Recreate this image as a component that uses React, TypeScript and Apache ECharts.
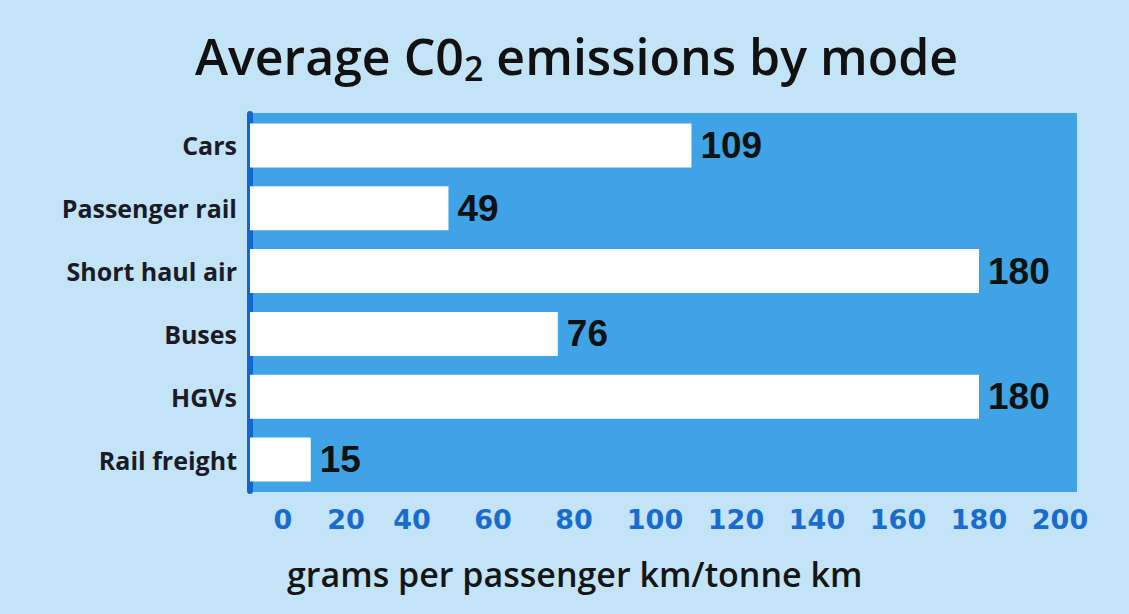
import React, { useEffect, useRef } from "react";
import * as echarts from "echarts";

const categories = ["Cars", "Passenger rail", "Short haul air", "Buses", "HGVs", "Rail freight"];
const values = [109, 49, 180, 76, 180, 15];
const axisMin = 0;
const axisMax = 200;
const axisStep = 20;
const titleMain = "Average C0";
const titleSub = "2";
const titleEnd = " emissions by mode";
const axisTitle = "grams per passenger km/tonne km";

export default function App() {
  const ref = useRef<HTMLDivElement>(null);
  useEffect(() => {
    if (!ref.current) return;
    const chart = echarts.init(ref.current, null, { renderer: "svg" });
    chart.setOption({
      animation: false,
      backgroundColor: "#c3e3f7",
      title: {
        text: `{a|${titleMain}}{s|${titleSub}}{a|${titleEnd}}`,
        left: 190,
        top: 22,
        textStyle: {
          rich: {
            a: { fontFamily: "Open Sans", fontWeight: 600, fontSize: 50, color: "#111" },
            s: { fontFamily: "Open Sans", fontWeight: 600, fontSize: 34, color: "#111", padding: [24, 0, 0, 0] },
          },
        },
      },
      graphic: [
        {
          type: "rect",
          z: -1,
          shape: { x: 250, y: 113, width: 827, height: 379 },
          style: { fill: "#3fa3e6" },
        },
        {
          type: "text",
          left: 287,
          top: 557,
          style: {
            text: axisTitle,
            fontFamily: "Open Sans",
            fontWeight: 600,
            fontSize: 34,
            fill: "#151515",
          },
        },
      ],
      grid: { left: 250, top: 114, width: 810, height: 377, containLabel: false },
      xAxis: {
        type: "value",
        min: axisMin,
        max: axisMax,
        interval: axisStep,
        axisLine: { show: false },
        axisTick: { show: false },
        splitLine: { show: false },
        axisLabel: {
          margin: 15,
          fontFamily: "DejaVu Sans",
          fontWeight: "bold",
          fontSize: 27,
          color: "#1a6ccc",
          formatter: (v: number) => (v === 0 ? `{z|${v}}` : v === 20 ? `{t|${v}}` : `${v}`),
          rich: {
            z: { fontFamily: "DejaVu Sans", fontWeight: "bold", fontSize: 27, color: "#1a6ccc", padding: [0, 0, 0, 66] },
            t: { fontFamily: "DejaVu Sans", fontWeight: "bold", fontSize: 27, color: "#1a6ccc", padding: [0, 0, 0, 30] },
          },
        },
      },
      yAxis: {
        type: "category",
        data: categories,
        inverse: true,
        axisLine: { show: true, lineStyle: { color: "#1565d0", width: 6 } },
        axisTick: { show: false },
        axisLabel: {
          margin: 13,
          fontFamily: "Open Sans",
          fontWeight: 700,
          fontSize: 25,
          color: "#1b1b28",
        },
      },
      series: [
        {
          type: "bar",
          data: values,
          barWidth: 44,
          itemStyle: { color: "#ffffff" },
          label: {
            show: true,
            position: "right",
            distance: 9,
            fontFamily: "Liberation Sans",
            fontWeight: "bold",
            fontSize: 37,
            color: "#111",
          },
        },
      ],
    });
    return () => chart.dispose();
  }, []);
  return (
    <div
      ref={ref}
      style={{ position: "absolute", left: 0, top: 0, width: 1129, height: 614 }}
    />
  );
}
